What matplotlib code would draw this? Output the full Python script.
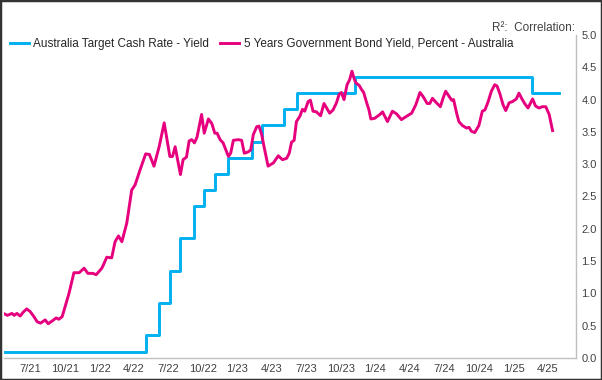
import pandas as pd
import matplotlib
matplotlib.use("Agg")
import matplotlib.pyplot as plt
import matplotlib.dates as mdates
from matplotlib.ticker import FuncFormatter, MultipleLocator
from matplotlib.patches import Rectangle

plt.rcParams['font.family'] = ['Liberation Sans', 'DejaVu Sans']

# RBA target cash rate (step changes)
cash_dates = ["2021-04-25", "2022-05-04", "2022-06-08", "2022-07-06", "2022-08-03",
              "2022-09-07", "2022-10-05", "2022-11-02", "2022-12-07", "2023-02-08",
              "2023-03-08", "2023-05-03", "2023-06-07", "2023-11-08", "2025-02-19",
              "2025-05-02"]
cash_rate = [0.10, 0.35, 0.85, 1.35, 1.85, 2.35, 2.60, 2.85, 3.10, 3.35,
             3.60, 3.85, 4.10, 4.35, 4.10, 4.10]

# 5 year government bond yield
bond_dates = [
    "2021-04-25", "2021-05-02", "2021-05-14", "2021-05-20", "2021-05-27", "2021-06-05",
    "2021-06-13", "2021-06-22", "2021-07-01", "2021-07-10", "2021-07-20", "2021-07-29",
    "2021-08-10", "2021-08-18", "2021-08-30", "2021-09-08", "2021-09-15", "2021-09-24",
    "2021-10-02", "2021-10-12", "2021-10-25", "2021-11-08", "2021-11-21", "2021-12-01",
    "2021-12-14", "2021-12-23", "2022-01-07", "2022-01-11", "2022-01-20", "2022-02-02",
    "2022-02-11", "2022-02-20", "2022-03-01", "2022-03-14", "2022-03-27", "2022-04-05",
    "2022-04-18", "2022-05-03", "2022-05-13", "2022-05-25", "2022-06-08", "2022-06-21",
    "2022-07-06", "2022-07-13", "2022-07-20", "2022-08-03", "2022-08-10", "2022-08-19",
    "2022-08-26", "2022-09-02", "2022-09-09", "2022-09-16", "2022-09-28", "2022-10-05",
    "2022-10-16", "2022-10-25", "2022-11-02", "2022-11-08", "2022-11-16", "2022-11-24",
    "2022-12-08", "2022-12-14", "2022-12-21", "2023-01-03", "2023-01-12", "2023-01-19",
    "2023-01-29", "2023-02-05", "2023-02-12", "2023-02-21", "2023-02-27", "2023-03-06",
    "2023-03-12", "2023-03-23", "2023-04-06", "2023-04-19", "2023-04-30", "2023-05-11",
    "2023-05-18", "2023-05-24", "2023-05-31", "2023-06-06", "2023-06-15", "2023-06-22",
    "2023-06-28", "2023-07-07", "2023-07-13", "2023-07-20", "2023-07-29", "2023-08-09",
    "2023-08-18", "2023-08-25", "2023-09-02", "2023-09-11", "2023-09-20", "2023-09-27",
    "2023-10-03", "2023-10-10", "2023-10-18", "2023-10-25", "2023-10-31", "2023-11-06",
    "2023-11-10", "2023-11-19", "2023-11-25", "2023-12-01", "2023-12-09", "2023-12-15",
    "2023-12-20", "2023-12-30", "2024-01-13", "2024-01-20", "2024-01-26", "2024-02-02",
    "2024-02-15", "2024-02-26", "2024-03-10", "2024-03-23", "2024-04-06", "2024-04-17",
    "2024-04-28", "2024-05-06", "2024-05-17", "2024-05-24", "2024-05-31", "2024-06-09",
    "2024-06-21", "2024-06-28", "2024-07-05", "2024-07-14", "2024-07-21", "2024-07-26",
    "2024-08-03", "2024-08-09", "2024-08-18", "2024-08-29", "2024-09-05", "2024-09-11",
    "2024-09-20", "2024-10-01", "2024-10-10", "2024-10-17", "2024-10-25", "2024-11-03",
    "2024-11-12", "2024-11-18", "2024-11-25", "2024-12-04", "2024-12-11", "2024-12-20",
    "2024-12-29", "2025-01-08", "2025-01-15", "2025-01-22", "2025-01-30", "2025-02-08",
    "2025-02-20", "2025-02-28", "2025-03-09", "2025-03-18", "2025-03-27", "2025-04-05",
    "2025-04-14"]
bond_yield = [
    0.68, 0.66, 0.69, 0.66, 0.69, 0.65,
    0.71, 0.76, 0.72, 0.65, 0.56, 0.54,
    0.59, 0.53, 0.58, 0.62, 0.60, 0.64,
    0.80, 1.00, 1.32, 1.32, 1.39, 1.31,
    1.31, 1.29, 1.39, 1.44, 1.56, 1.55,
    1.80, 1.89, 1.80, 2.09, 2.60, 2.68,
    2.91, 3.16, 3.15, 2.97, 3.28, 3.64,
    3.12, 3.12, 3.27, 2.84, 3.07, 3.11,
    3.36, 3.38, 3.33, 3.42, 3.77, 3.48,
    3.70, 3.63, 3.48, 3.48, 3.38, 3.33,
    3.12, 3.17, 3.37, 3.38, 3.37, 3.17,
    3.19, 3.22, 3.46, 3.58, 3.59, 3.46,
    3.28, 2.97, 3.02, 3.13, 3.07, 3.09,
    3.17, 3.34, 3.37, 3.66, 3.74, 3.85,
    3.82, 3.97, 3.99, 3.82, 3.81, 3.75,
    3.94, 3.87, 3.79, 3.84, 3.95, 4.08,
    4.11, 4.00, 4.23, 4.31, 4.44, 4.32,
    4.26, 4.22, 4.16, 4.11, 3.95, 3.84,
    3.70, 3.71, 3.77, 3.81, 3.74, 3.66,
    3.82, 3.78, 3.69, 3.74, 3.79, 3.92,
    4.11, 4.05, 3.94, 3.94, 4.02, 3.96,
    3.89, 4.02, 4.13, 4.05, 3.99, 4.00,
    3.79, 3.66, 3.60, 3.56, 3.57, 3.51,
    3.49, 3.60, 3.82, 3.84, 3.96, 4.13,
    4.23, 4.21, 4.10, 3.92, 3.83, 3.95,
    3.97, 4.01, 4.10, 4.02, 3.94, 3.87,
    4.01, 3.90, 3.87, 3.89, 3.89, 3.77,
    3.52]

blue = "#00B0F0"
pink = "#E6007E"
text_col = "#404040"

fig = plt.figure(figsize=(6.02, 3.80), dpi=100)
ax = fig.add_axes([4 / 602, 1 - 358 / 380, 572 / 602, 323 / 380])

ax.step(pd.to_datetime(cash_dates), cash_rate, where="post", color=blue, lw=2.1,
        label="Australia Target Cash Rate - Yield")
ax.plot(pd.to_datetime(bond_dates), bond_yield, color=pink, lw=2.1,
        label="5 Years Government Bond Yield, Percent - Australia")

ax.set_xlim(pd.Timestamp("2021-04-23"), pd.Timestamp("2025-06-15"))
ax.set_ylim(0, 5)

ax.yaxis.tick_right()
ax.yaxis.set_major_locator(MultipleLocator(0.5))
ax.yaxis.set_major_formatter(FuncFormatter(lambda v, p: f"{v:.1f}"))
ax.xaxis.set_major_locator(mdates.MonthLocator(bymonth=[1, 4, 7, 10]))
ax.xaxis.set_major_formatter(FuncFormatter(
    lambda v, p: f"{mdates.num2date(v).month}/{mdates.num2date(v).strftime('%y')}"))
ax.tick_params(axis="both", length=0, labelsize=8, colors=text_col)
ax.tick_params(axis="y", pad=4)
ax.tick_params(axis="x", pad=4)

for s in ["top", "left"]:
    ax.spines[s].set_visible(False)
for s in ["right", "bottom"]:
    ax.spines[s].set_color("#BFBFBF")
    ax.spines[s].set_linewidth(1.0)

ax.legend(loc="upper left", bbox_to_anchor=(0.002, 1.006), ncol=2, frameon=False,
          fontsize=8.5, handlelength=1.6, handletextpad=0.4, columnspacing=0.9,
          labelcolor="#262626", borderaxespad=0)

fig.text(575 / 602, 1 - 28 / 380, "R\u00b2:  Correlation:", ha="right", va="center",
         fontsize=8.5, color=text_col)

fig.patches.append(Rectangle((0, 0), 1, 1, transform=fig.transFigure, fill=False,
                             edgecolor="#333333", linewidth=2.5))

fig.savefig("out.png", dpi=100)
